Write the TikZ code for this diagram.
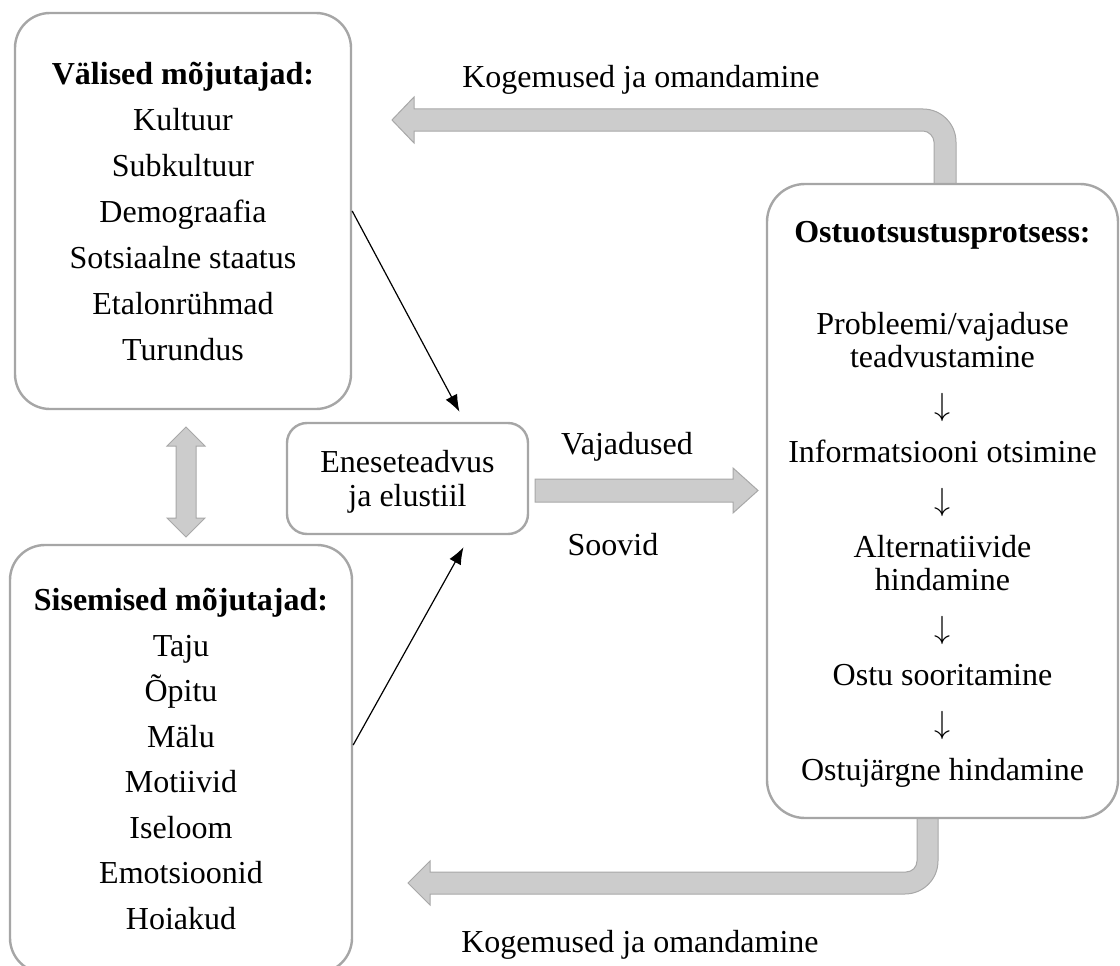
\RequirePackage{fix-cm}
\documentclass[tikz,border=0pt]{standalone}
\usepackage{fontspec}
\setmainfont{Liberation Serif}
\usetikzlibrary{arrows.meta,calc}
\definecolor{boxgray}{RGB}{166,166,166}
\definecolor{arrfill}{RGB}{204,204,204}
\definecolor{arrline}{RGB}{168,168,168}
\newcommand{\stepdown}{$\downarrow$}
\begin{document}
\begin{tikzpicture}[x=1pt,y=-1pt,
  infobox/.style={draw=boxgray, line width=2.4pt, rounded corners=35pt, fill=white,
    inner sep=0pt, align=center, text=black, text depth=0pt},
  blockarrow/.style={fill=arrfill, draw=arrline, line width=1pt, line join=miter},
  thinarrow/.style={draw=black, line width=1.2pt, -{Latex[length=17pt,width=13pt]}},
  lbl/.style={font=\fontsize{32}{38}\selectfont, inner sep=0pt}]
\useasboundingbox (0,0) rectangle (1120,966);

% block arrows (drawn first, boxes cover their ends)
\draw[blockarrow] (956,186) -- (956,142) .. controls (956,123.8) and (941.2,109) .. (923,109)
  -- (414,109) -- (414,97) -- (392,120) -- (414,143) -- (414,131) -- (923,131)
  .. controls (929.1,131) and (934,136.9) .. (934,142) -- (934,186) -- cycle;
\draw[blockarrow] (917,816) -- (917,861) .. controls (917,867.1) and (912.1,872) .. (906,872)
  -- (430,872) -- (430,861) -- (408,883) -- (430,905) -- (430,894) -- (905,894)
  .. controls (923.2,894) and (938,879.2) .. (938,861) -- (938,816) -- cycle;
\draw[blockarrow] (535,479) -- (733,479) -- (733,468) -- (758,490.5) -- (733,513)
  -- (733,502) -- (535,502) -- cycle;
\draw[blockarrow] (186,427) -- (205,446) -- (196,446) -- (196,518) -- (205,518)
  -- (186,537) -- (167,518) -- (176,518) -- (176,446) -- (167,446) -- cycle;

% boxes
\node[infobox, minimum width=336pt, minimum height=396pt,
  font=\fontsize{32}{46}\selectfont] (ext) at (183,211)
  {\textbf{Välised mõjutajad:}\\Kultuur\\Subkultuur\\Demograafia\\Sotsiaalne staatus\\Etalonrühmad\\Turundus};
\node[infobox, minimum width=342pt, minimum height=428pt,
  font=\fontsize{32}{45.5}\selectfont] (int) at (181,759)
  {\textbf{Sisemised mõjutajad:}\\Taju\\Õpitu\\Mälu\\Motiivid\\Iseloom\\Emotsioonid\\Hoiakud};
\node[infobox, rounded corners=38pt, minimum width=351pt, minimum height=634pt,
  font=\fontsize{32}{47.5}\selectfont] (proc) at (942.5,501)
  {\textbf{Ostuotsustusprotsess:}\\[45pt]
   Probleemi/vajaduse\\[-14.5pt]teadvustamine\\\stepdown\\Informatsiooni otsimine\\\stepdown\\
   Alternatiivide\\[-14.5pt]hindamine\\\stepdown\\Ostu sooritamine\\\stepdown\\Ostujärgne hindamine};
\node[infobox, rounded corners=20pt, minimum width=241pt, minimum height=111pt,
  font=\fontsize{32}{34}\selectfont] (mid) at (407.5,478.5)
  {Eneseteadvus\\ja elustiil};

% labels
\node[lbl] (kog1) at (641,80) {Kogemused ja omandamine};
\node[lbl] (kog2) at (640,945) {Kogemused ja omandamine};
\node[lbl] (vaj) at (627,447) {Vajadused};
\node[lbl] (soo) at (613,545) {Soovid};

% thin connectors
\draw[thinarrow] (ext.east) -- ([shift={(52,-10)}]mid.north);
\draw[thinarrow] ([yshift=14pt]int.east) -- ([shift={(56,12)}]mid.south);
\end{tikzpicture}
\end{document}
